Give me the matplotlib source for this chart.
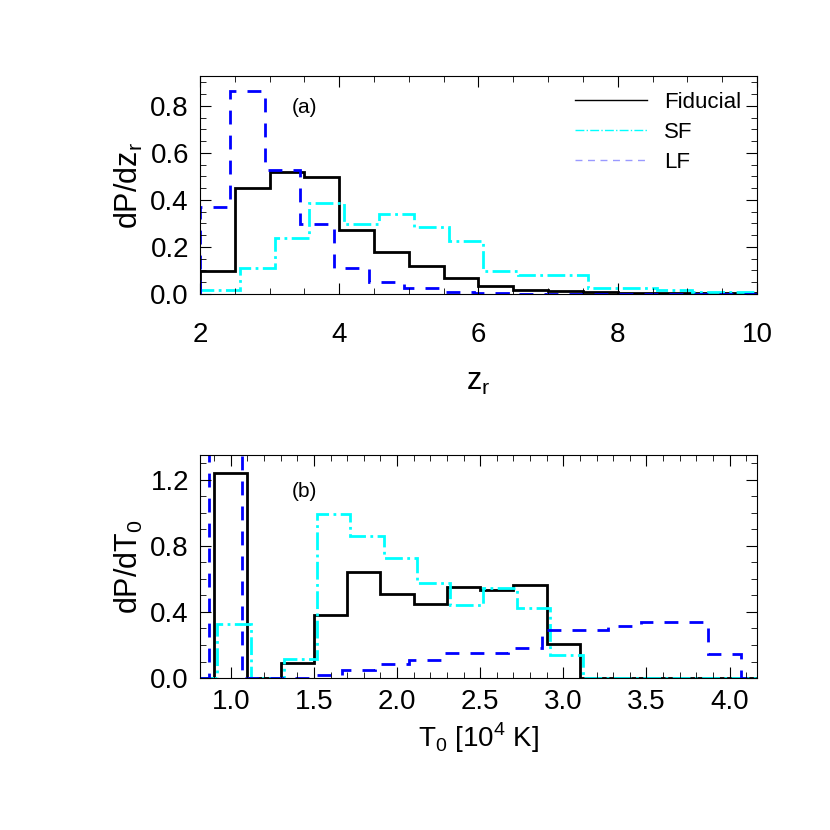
import numpy as np
import matplotlib.pyplot as plt
from matplotlib.ticker import MultipleLocator

plt.rcParams['font.family'] = ['Liberation Sans', 'DejaVu Sans']

# panel (a): distribution of z_r
zr_edges = [2.0, 2.5, 3.0, 3.5, 4.0, 4.5, 5.0, 5.5, 6.0, 6.5, 7.0, 7.5, 8.0, 8.5, 9.0, 9.5, 10.0]
zr_edges_sf = [2.0, 2.57, 3.07, 3.57, 4.07, 4.57, 5.07, 5.57, 6.07, 6.57, 7.07, 7.57, 8.07, 8.57, 9.07, 9.57, 10.0]
zr_edges_lf = [2.0, 2.43, 2.93, 3.43, 3.93, 4.43, 4.93, 5.43, 5.93, 6.43, 6.93, 7.43, 7.93, 8.43, 8.93, 9.43, 10.0]
zr_fid = [0.096, 0.451, 0.518, 0.497, 0.270, 0.177, 0.118, 0.067, 0.032, 0.018, 0.013, 0.006, 0.005, 0.003, 0.002, 0.002]
zr_sf = [0.018, 0.111, 0.236, 0.385, 0.296, 0.338, 0.285, 0.224, 0.096, 0.082, 0.079, 0.023, 0.023, 0.018, 0.008, 0.008]
zr_lf = [0.37, 0.864, 0.526, 0.299, 0.111, 0.051, 0.025, 0.006, 0.002, 0.001, 0.001, 0.001, 0.001, 0.001, 0.001, 0.001]

# panel (b): distribution of T0
t0_edges = [0.815, 0.9, 1.1, 1.3, 1.5, 1.7, 1.9, 2.1, 2.3, 2.5, 2.7, 2.9, 3.1, 4.17]
t0_edges_sf = [0.815, 0.92, 1.12, 1.32, 1.52, 1.72, 1.92, 2.12, 2.32, 2.52, 2.72, 2.92, 3.12, 4.17]
t0_fid = [0.0, 1.238, 0.0, 0.094, 0.38, 0.639, 0.509, 0.448, 0.55, 0.53, 0.56, 0.209, 0.0]
t0_sf = [0.0, 0.329, 0.0, 0.115, 0.99, 0.862, 0.725, 0.575, 0.441, 0.546, 0.423, 0.14, 0.0]
t0_edges_lf = [0.815, 0.87, 1.07, 1.27, 1.47, 1.67, 1.87, 2.07, 2.27, 2.47, 2.67, 2.87, 3.07,
               3.27, 3.47, 3.67, 3.87, 4.07, 4.17]
t0_lf = [0.0, 1.6, 0.0, 0.002, 0.02, 0.047, 0.084, 0.109, 0.15, 0.15, 0.185, 0.29, 0.29,
         0.314, 0.339, 0.339, 0.146, 0.0]

fig = plt.figure(figsize=(8.3, 8.3), dpi=100)
ax1 = fig.add_axes([0.241, 0.646, 0.671, 0.262])
ax2 = fig.add_axes([0.241, 0.183, 0.671, 0.269])

lw = 2.0
ax1.stairs(zr_fid, zr_edges, color='black', lw=lw, label='Fiducial')
ax1.stairs(zr_sf, zr_edges_sf, color='cyan', lw=lw, ls='-.', label='SF')
ax1.stairs(zr_lf, zr_edges_lf, color='blue', lw=lw, ls=(0, (5, 4)), label='LF')
ax1.set_xlim(2, 10)
ax1.set_ylim(0, 0.926)
ax1.set_yticks([0.0, 0.2, 0.4, 0.6, 0.8])
ax1.set_yticklabels(['0.0', '0.2', '0.4', '0.6', '0.8'])
ax1.xaxis.set_major_locator(MultipleLocator(2))
ax1.xaxis.set_minor_locator(MultipleLocator(0.5))
ax1.yaxis.set_minor_locator(MultipleLocator(0.05))
ax1.set_xlabel(r'z$_\mathregular{r}$', fontsize=22, labelpad=14)
ax1.set_ylabel(r'dP/dz$_\mathregular{r}$', fontsize=22)
ax1.text(0.165, 0.9, '(a)', transform=ax1.transAxes, fontsize=15, va='top')
h = [plt.Line2D([], [], color='black', lw=1),
     plt.Line2D([], [], color='cyan', lw=1, ls='-.'),
     plt.Line2D([], [], color='blue', lw=1, ls=(0, (5, 4)), alpha=0.4)]
ax1.legend(h, ['Fiducial', 'SF', 'LF'], loc='upper right', frameon=False, fontsize=16,
           handlelength=3.2, borderaxespad=0.3, labelspacing=0.4)

ax2.stairs(t0_fid, t0_edges, color='black', lw=lw)
ax2.stairs(t0_sf, t0_edges_sf, color='cyan', lw=lw, ls='-.')
ax2.stairs(t0_lf, t0_edges_lf, color='blue', lw=lw, ls=(0, (5, 4)))
ax2.set_xlim(0.815, 4.165)
ax2.set_ylim(0, 1.35)
ax2.set_yticks([0.0, 0.4, 0.8, 1.2])
ax2.set_yticklabels(['0.0', '0.4', '0.8', '1.2'])
ax2.xaxis.set_major_locator(MultipleLocator(0.5))
ax2.xaxis.set_minor_locator(MultipleLocator(0.1))
ax2.yaxis.set_minor_locator(MultipleLocator(0.1))
ax2.set_xlabel(r'T$_\mathregular{0}$ [10$^\mathregular{4}$ K]', fontsize=20)
ax2.set_ylabel(r'dP/dT$_\mathregular{0}$', fontsize=22)
ax2.text(0.165, 0.88, '(b)', transform=ax2.transAxes, fontsize=15, va='top')

for ax in (ax1, ax2):
    ax.tick_params(which='both', direction='in', top=True, right=True, labelsize=20)
    ax.tick_params(which='major', length=8, pad=8)
    ax.tick_params(which='minor', length=4)
ax1.tick_params(axis='x', which='major', pad=20)

fig.savefig('out.png', dpi=100)
